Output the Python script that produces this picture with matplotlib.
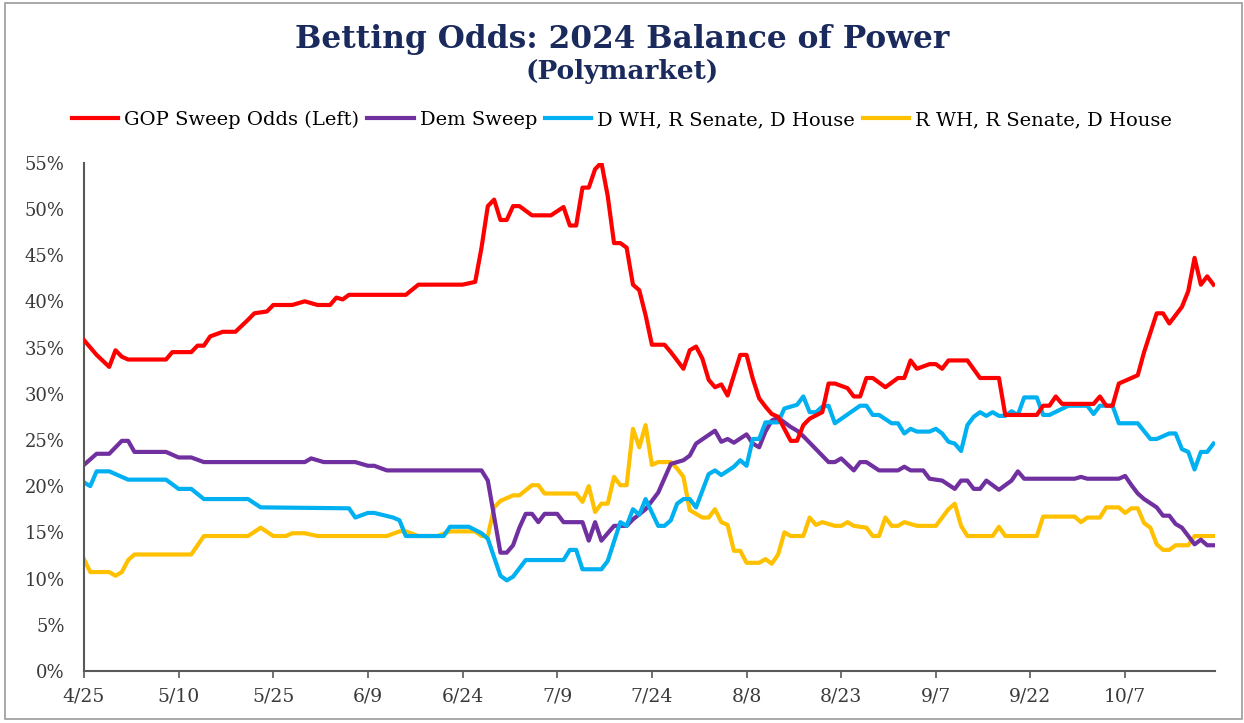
import matplotlib
matplotlib.use("Agg")
import matplotlib.pyplot as plt
from matplotlib.patches import Rectangle

# day offsets from 4/25/2024 and odds (%)
gop_days = [0, 2, 4, 5, 6, 7, 13, 14, 17, 18, 19, 20, 22, 24, 26, 27, 29, 30, 33, 35, 37, 39, 40, 41, 42,
            51, 53, 60, 62, 63, 64, 65, 66, 67, 68, 69, 71, 74, 76, 77, 78, 79, 80, 81, 82, 83, 84, 85, 86,
            87, 88, 89, 90, 92, 93, 94, 95, 96, 97, 98, 99, 100, 101, 102, 103, 104, 105, 106, 107, 108,
            109, 110, 112, 113, 114, 115, 117, 118, 119, 121, 122, 123, 124, 125, 127, 129, 130, 131, 132,
            134, 135, 136, 137, 140, 142, 145, 146, 151, 152, 153, 154, 155, 160, 161, 162, 163, 164, 167,
            168, 170, 171, 172, 174, 175, 176, 177, 178, 179]
gop_vals = [35.8, 34.2, 32.9, 34.7, 34.0, 33.7, 33.7, 34.5, 34.5, 35.2, 35.2, 36.2, 36.7, 36.7, 38.0, 38.7,
            38.9, 39.6, 39.6, 40.0, 39.6, 39.6, 40.4, 40.2, 40.7, 40.7, 41.8, 41.8, 42.1, 45.8, 50.3, 51.0,
            48.8, 48.8, 50.3, 50.3, 49.3, 49.3, 50.2, 48.2, 48.2, 52.3, 52.3, 54.3, 55.0, 51.4, 46.3, 46.3,
            45.8, 41.8, 41.2, 38.5, 35.3, 35.3, 34.5, 33.6, 32.7, 34.7, 35.1, 33.8, 31.5, 30.7, 31.0, 29.8,
            32.0, 34.2, 34.2, 31.6, 29.5, 28.6, 27.8, 27.5, 24.9, 24.9, 26.6, 27.3, 28.0, 31.1, 31.1, 30.6,
            29.7, 29.7, 31.7, 31.7, 30.7, 31.7, 31.7, 33.6, 32.7, 33.2, 33.2, 32.7, 33.6, 33.6, 31.7, 31.7,
            27.7, 27.7, 28.7, 28.7, 29.7, 28.9, 28.9, 29.7, 28.7, 28.7, 31.1, 32.0, 34.5, 38.7, 38.7, 37.6,
            39.4, 41.1, 44.7, 41.8, 42.7, 41.8]

dem_days = [0, 2, 4, 6, 7, 8, 13, 15, 17, 19, 35, 36, 38, 43, 45, 46, 48, 63, 64, 66, 67, 68, 69, 70, 71,
            72, 73, 75, 76, 79, 80, 81, 82, 84, 86, 87, 89, 91, 93, 95, 96, 97, 100, 101, 102, 103, 105,
            106, 107, 108, 109, 110, 112, 113, 114, 116, 118, 119, 120, 122, 123, 124, 126, 129, 130, 131,
            133, 134, 136, 138, 139, 140, 141, 142, 143, 144, 145, 147, 148, 149, 157, 158, 159, 164, 165,
            166, 167, 168, 170, 171, 172, 173, 174, 176, 177, 178, 179]
dem_vals = [22.3, 23.5, 23.5, 24.9, 24.9, 23.7, 23.7, 23.1, 23.1, 22.6, 22.6, 23.0, 22.6, 22.6, 22.2, 22.2,
            21.7, 21.7, 20.6, 12.8, 12.8, 13.6, 15.5, 17.0, 17.0, 16.1, 17.0, 17.0, 16.1, 16.1, 14.1, 16.1,
            14.1, 15.7, 15.7, 16.4, 17.5, 19.3, 22.4, 22.8, 23.3, 24.6, 26.0, 24.8, 25.1, 24.7, 25.6, 24.6,
            24.2, 25.9, 27.1, 27.4, 26.4, 26.0, 25.4, 24.0, 22.6, 22.6, 23.0, 21.7, 22.6, 22.6, 21.7, 21.7,
            22.1, 21.7, 21.7, 20.8, 20.6, 19.7, 20.6, 20.6, 19.7, 19.7, 20.6, 20.1, 19.6, 20.6, 21.6, 20.8,
            20.8, 21.0, 20.8, 20.8, 21.1, 20.1, 19.2, 18.6, 17.7, 16.8, 16.8, 15.9, 15.5, 13.7, 14.2, 13.6,
            13.6]

dwh_days = [0, 1, 2, 4, 7, 13, 15, 17, 19, 26, 28, 42, 43, 45, 46, 49, 50, 51, 57, 58, 61, 63, 64, 66, 67,
            68, 70, 76, 77, 78, 79, 82, 83, 85, 86, 87, 88, 89, 91, 92, 93, 94, 95, 96, 97, 99, 100, 101,
            103, 104, 105, 106, 107, 108, 110, 111, 113, 114, 115, 116, 117, 118, 119, 123, 124, 125, 126,
            128, 129, 130, 131, 132, 134, 135, 136, 137, 138, 139, 140, 141, 142, 143, 144, 145, 146, 147,
            148, 149, 151, 152, 153, 156, 159, 160, 161, 163, 164, 167, 169, 170, 172, 173, 174, 175, 176,
            177, 178, 179]
dwh_vals = [20.4, 20.0, 21.6, 21.6, 20.7, 20.7, 19.7, 19.7, 18.6, 18.6, 17.7, 17.6, 16.6, 17.1, 17.1, 16.6,
            16.3, 14.6, 14.6, 15.6, 15.6, 14.9, 14.3, 10.3, 9.8, 10.2, 12.0, 12.0, 13.1, 13.1, 11.0, 11.0,
            11.9, 16.1, 15.7, 17.5, 16.9, 18.6, 15.7, 15.7, 16.3, 18.1, 18.6, 18.6, 17.7, 21.3, 21.7, 21.2,
            22.1, 22.8, 22.2, 25.1, 25.1, 26.9, 26.9, 28.4, 28.8, 29.7, 28.0, 28.0, 28.6, 28.7, 26.8, 28.7,
            28.7, 27.7, 27.7, 26.8, 26.8, 25.7, 26.2, 25.9, 25.9, 26.2, 25.7, 24.8, 24.6, 23.8, 26.6, 27.5,
            28.0, 27.6, 28.0, 27.6, 27.6, 28.1, 27.7, 29.6, 29.6, 27.7, 27.7, 28.7, 28.7, 27.8, 28.7, 28.7,
            26.8, 26.8, 25.1, 25.1, 25.7, 25.7, 24.0, 23.7, 21.8, 23.7, 23.7, 24.6]

rwh_days = [0, 1, 4, 5, 6, 7, 8, 17, 19, 26, 28, 30, 32, 33, 35, 37, 48, 50, 51, 53, 56, 58, 62, 63, 64,
            65, 66, 68, 69, 71, 72, 73, 78, 79, 80, 81, 82, 83, 84, 85, 86, 87, 88, 89, 90, 91, 93, 94, 95,
            96, 97, 98, 99, 100, 101, 102, 103, 104, 105, 107, 108, 109, 110, 111, 112, 114, 115, 116, 117,
            119, 120, 121, 122, 124, 125, 126, 127, 128, 129, 130, 132, 135, 137, 138, 139, 140, 144, 145,
            146, 151, 152, 157, 158, 159, 161, 162, 164, 165, 166, 167, 168, 169, 170, 171, 172, 173, 175,
            176, 179]
rwh_vals = [12.1, 10.7, 10.7, 10.3, 10.7, 12.0, 12.6, 12.6, 14.6, 14.6, 15.5, 14.6, 14.6, 14.9, 14.9, 14.6,
            14.6, 15.1, 15.1, 14.6, 14.6, 15.1, 15.1, 14.6, 14.6, 17.7, 18.4, 19.0, 19.0, 20.1, 20.1, 19.2,
            19.2, 18.3, 20.0, 17.2, 18.1, 18.1, 21.0, 20.1, 20.1, 26.2, 24.2, 26.6, 22.3, 22.6, 22.6, 21.9,
            21.0, 17.4, 17.0, 16.6, 16.6, 17.5, 16.1, 15.8, 13.0, 13.0, 11.7, 11.7, 12.1, 11.6, 12.6, 15.0,
            14.6, 14.6, 16.6, 15.8, 16.1, 15.7, 15.7, 16.1, 15.7, 15.5, 14.6, 14.6, 16.6, 15.7, 15.7, 16.1,
            15.7, 15.7, 17.5, 18.1, 15.7, 14.6, 14.6, 15.6, 14.6, 14.6, 16.7, 16.7, 16.1, 16.6, 16.6, 17.7,
            17.7, 17.1, 17.6, 17.6, 16.0, 15.5, 13.7, 13.1, 13.1, 13.6, 13.6, 14.6, 14.6]

tick_days = [0, 15, 30, 45, 60, 75, 90, 105, 120, 135, 150, 165]
tick_labels = ['4/25', '5/10', '5/25', '6/9', '6/24', '7/9', '7/24', '8/8', '8/23', '9/7', '9/22', '10/7']

plt.rcParams['font.family'] = ['DejaVu Serif']

fig = plt.figure(figsize=(12.44, 7.23), dpi=100)
ax = fig.add_axes([0.0675, 0.072, 0.9095, 0.703])

lw = 3.0
ax.plot(gop_days, gop_vals, color='#FF0000', lw=lw, label='GOP Sweep Odds (Left)', zorder=3)
ax.plot(dem_days, dem_vals, color='#7030A0', lw=lw, label='Dem Sweep', zorder=2)
ax.plot(dwh_days, dwh_vals, color='#00B0F0', lw=lw, label='D WH, R Senate, D House', zorder=2)
ax.plot(rwh_days, rwh_vals, color='#FFC000', lw=lw, label='R WH, R Senate, D House', zorder=1)

ax.set_xlim(0, 179.3)
ax.set_ylim(0, 55)
ax.set_yticks(range(0, 56, 5))
ax.set_yticklabels([f'{v}%' for v in range(0, 56, 5)])
ax.set_xticks(tick_days)
ax.set_xticklabels(tick_labels)

for s in ['top', 'right']:
    ax.spines[s].set_visible(False)
for s in ['left', 'bottom']:
    ax.spines[s].set_color('#595959')
    ax.spines[s].set_linewidth(1.5)

ax.tick_params(axis='y', length=0, pad=14, labelsize=13, labelcolor='#3a3a3a')
ax.tick_params(axis='x', length=5, width=1.2, color='#595959', pad=7, labelsize=13.5, labelcolor='#3a3a3a')

fig.text(0.5, 0.946, 'Betting Odds: 2024 Balance of Power', ha='center', va='center',
         fontsize=22.5, fontweight='bold', color='#1B2A5C')
fig.text(0.5, 0.901, '(Polymarket)', ha='center', va='center',
         fontsize=19, fontweight='bold', color='#1B2A5C')

fig.legend(loc='center', bbox_to_anchor=(0.5, 0.834), ncol=4, frameon=False,
           fontsize=14, handlelength=2.4, handletextpad=0.3, columnspacing=0.4)

# thin frame around the whole picture
fig.patches.append(Rectangle((0.004, 0.006), 0.994, 0.99, transform=fig.transFigure,
                             fill=False, edgecolor='#9a9a9a', lw=1.2))

fig.savefig('out.png', dpi=100)
